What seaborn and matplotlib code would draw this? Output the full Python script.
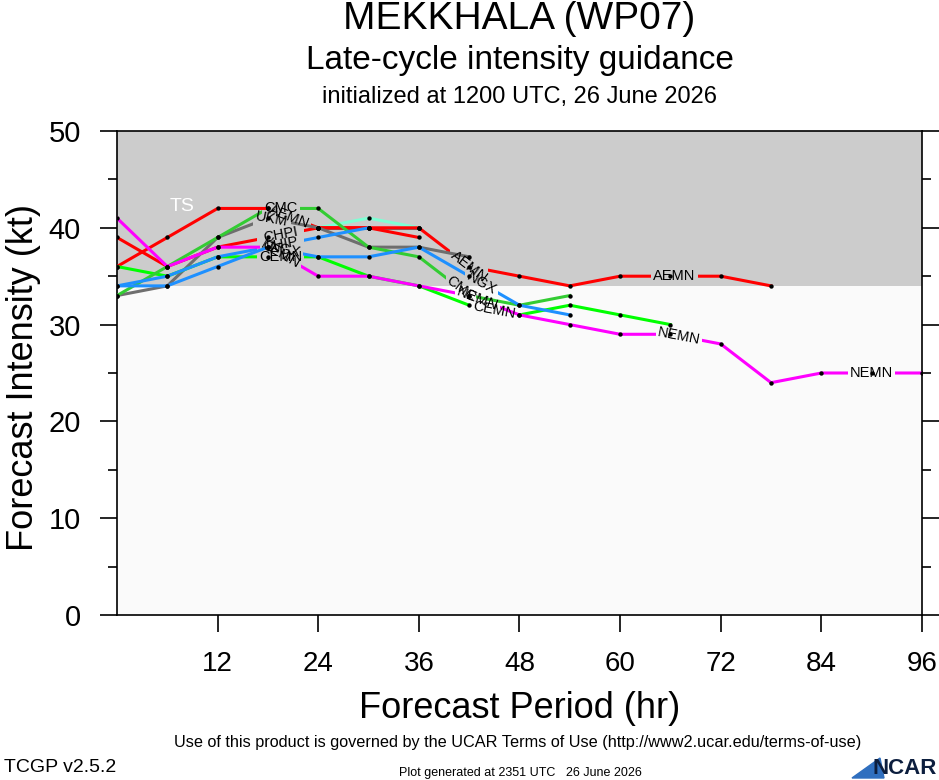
import numpy as np
import pandas as pd
import matplotlib
matplotlib.use("Agg")
import matplotlib.pyplot as plt
import seaborn as sns
from matplotlib.path import Path
from matplotlib.patches import Polygon

# ---------------- data ----------------
hours_all = [0, 6, 12, 18, 24, 30, 36, 42, 48, 54, 60, 66, 72, 78, 84, 90, 96]

aemn = [36, 39, 42, 42, 40, 40, 40, 36, 35, 34, 35, 35, 35, 34]
chpi = [39, 36, 38, 39, 40, 40, 39]
cmc = [33, 36, 39, 42, 42, 38, 37, 33, 32, 33]
cemn = [36, 35, 37, 37, 37, 35, 34, 32, 31, 32, 31, 30]
ukm = [33, 34, 39, 41, 40, 38, 38, 37]
ukmi = [40, 40, 40]          # starts at 24 h
ctci = [40, 41, 40]          # starts at 24 h
ngx = [34, 34, 36, 38, 37, 37, 38, 35, 32, 31]
chip = [34, 35, 37, 38, 39, 40]
nemn = [41, 36, 38, 38, 35, 35, 34, 33, 31, 30, 29, 29, 28, 24, 25, 25, 25]

start_hour = {"UKMI": 24, "CTCI": 24}
series = {
    "UKMI": ukmi, "CTCI": ctci, "CHPI": chpi, "AEMN": aemn, "UKM": ukm,
    "CEMN": cemn, "CMC": cmc, "CHIP": chip, "NGX": ngx, "NEMN": nemn,
}
colors = {
    "UKMI": "#6e6e6e", "CTCI": "#7fffd4", "CHPI": "#ff0000", "AEMN": "#ff0000",
    "UKM": "#6e6e6e", "CEMN": "#00ff00", "CMC": "#33cc33", "CHIP": "#1e90ff",
    "NGX": "#1e90ff", "NEMN": "#ff00ff",
}
label_hours = {
    "AEMN": [20.5, 42, 66.5], "CHPI": [19.5], "CMC": [19.5, 41],
    "CEMN": [19.5, 45], "UKM": [18.5], "NGX": [20, 43.5], "CHIP": [19.5],
    "NEMN": [19.5, 43, 67, 90],
}

rows = []
for name, vals in series.items():
    h0 = start_hour.get(name, 0)
    for i, v in enumerate(vals):
        rows.append({"model": name, "hour": h0 + 6 * i, "kt": v})
df = pd.DataFrame(rows)

# ---------------- figure ----------------
W, H = 939, 780
fig = plt.figure(figsize=(W / 100, H / 100), dpi=100)
ax_l, ax_r, ax_t, ax_b = 117, 922, 131, 615
ax = fig.add_axes([ax_l / W, 1 - ax_b / H, (ax_r - ax_l) / W, (ax_b - ax_t) / H])
ax.set_xlim(0, 96)
ax.set_ylim(0, 50)
ax.set_facecolor("#fafafa")
ax.axhspan(34, 50, color="#cccccc", zorder=0, lw=0)

FONT = "Liberation Sans"
pxh = (ax_r - ax_l) / 96.0
pxk = (ax_b - ax_t) / 50.0
lab_fs = 10.5
lab_px = lab_fs * 100 / 72

for name in series:
    sub = df[df.model == name]
    sns.lineplot(data=sub, x="hour", y="kt", color=colors[name], lw=2.2,
                 ax=ax, legend=False, zorder=3)
    line = ax.lines[-1]
    hrs = sub.hour.to_numpy(float)
    kts = sub.kt.to_numpy(float)
    verts, codes = [], []
    verts += [(-20, -20), (120, -20), (120, 80), (-20, 80), (-20, -20)]
    codes += [Path.MOVETO, Path.LINETO, Path.LINETO, Path.LINETO, Path.CLOSEPOLY]
    for lh in label_hours.get(name, []):
        if lh < hrs.min() or lh > hrs.max():
            continue
        ly = np.interp(lh, hrs, kts)
        seg = np.searchsorted(hrs, lh) - 1
        seg = max(0, min(seg, len(hrs) - 2))
        dxp = (hrs[seg + 1] - hrs[seg]) * pxh
        dyp = (kts[seg + 1] - kts[seg]) * pxk
        ang = np.degrees(np.arctan2(dyp, dxp))
        ax.text(lh, ly, name, fontsize=lab_fs, family=FONT, color="black",
                ha="center", va="center", rotation=ang, rotation_mode="anchor",
                zorder=6)
        half = (len(name) * 0.64 * lab_px / 2 + 5) * np.cos(np.radians(ang)) / pxh
        verts += [(lh - half, -20), (lh - half, 80), (lh + half, 80),
                  (lh + half, -20), (lh - half, -20)]
        codes += [Path.MOVETO, Path.LINETO, Path.LINETO, Path.LINETO, Path.CLOSEPOLY]
    line.set_clip_path(Path(verts, codes), ax.transData)

sns.scatterplot(data=df, x="hour", y="kt", color="black", s=10, linewidth=0,
                ax=ax, legend=False, zorder=5)

ax.text(7.8, 42.2, "TS", color="white", fontsize=14, family=FONT,
        ha="center", va="center", zorder=2)

# axes styling
for sp in ax.spines.values():
    sp.set_color("black")
    sp.set_linewidth(1.2)
ax.set_xticks([12, 24, 36, 48, 60, 72, 84, 96])
ax.set_yticks([0, 10, 20, 30, 40, 50])
ax.set_yticks(np.arange(5, 50, 10), minor=True)
ax.tick_params(axis="x", which="major", direction="out", length=12, width=1.2,
               pad=14, labelsize=20, top=False)
ax.tick_params(axis="y", which="major", direction="out", length=12, width=1.2,
               pad=14, labelsize=21, left=True, right=True)
ax.tick_params(axis="y", which="minor", direction="out", length=6.5, width=1.2,
               left=True, right=True)
for t in ax.get_xticklabels() + ax.get_yticklabels():
    t.set_family(FONT)
ax.set_xlabel("Forecast Period (hr)", fontsize=26, family=FONT, labelpad=10)
ax.set_ylabel("Forecast Intensity (kt)", fontsize=26, family=FONT)
ax.yaxis.set_label_coords((41 - ax_l) / (ax_r - ax_l), 0.49)
ax.grid(False)

# titles / footers
cx = (ax_l + ax_r) / 2 / W
fig.text(cx, 1 - 19 / H, "MEKKHALA (WP07)", fontsize=28, family=FONT,
         ha="center", va="center")
fig.text(cx, 1 - 60 / H, "Late-cycle intensity guidance", fontsize=24,
         family=FONT, ha="center", va="center")
fig.text(cx, 1 - 97 / H, "initialized at 1200 UTC, 26 June 2026", fontsize=17,
         family=FONT, ha="center", va="center")
fig.text(518 / W, 1 - 743 / H,
         "Use of this product is governed by the UCAR Terms of Use (http://www2.ucar.edu/terms-of-use)",
         fontsize=11.7, family=FONT, ha="center", va="center")
fig.text(4 / W, 1 - 768 / H, "TCGP v2.5.2", fontsize=14, family=FONT,
         ha="left", va="center")
fig.text(520 / W, 1 - 773 / H, "Plot generated at 2351 UTC   26 June 2026",
         fontsize=9, family=FONT, ha="center", va="center")

# NCAR logo
fig.patches.append(Polygon([(852 / W, 1 - 778 / H), (880 / W, 1 - 758 / H),
                            (884 / W, 1 - 778 / H)], closed=True,
                           transform=fig.transFigure, color="#2f6fbf"))
fig.text(873 / W, 1 - 768 / H, "NCAR", fontsize=16, weight="bold",
         family=FONT, color="#0c1e3e", ha="left", va="center")

fig.savefig("out.png", dpi=100)
